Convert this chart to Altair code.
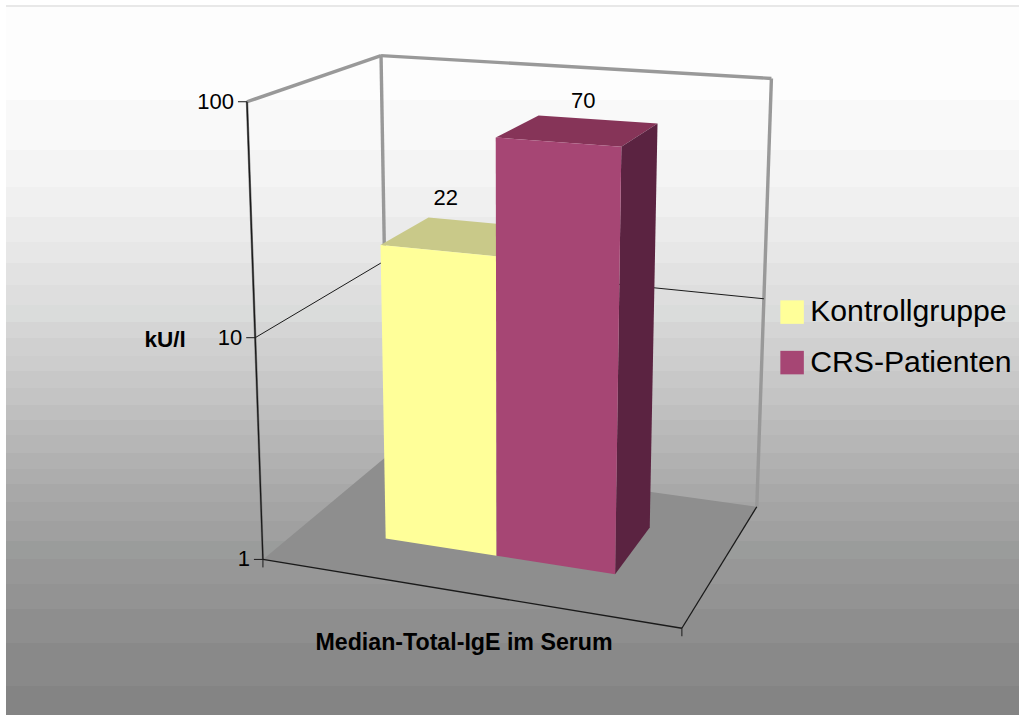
import altair as alt
import numpy as np
import pandas as pd

W, H = 1019, 716
FONT = "Liberation Sans"

# Chart values
series = ["Kontrollgruppe", "CRS-Patienten"]
values = [22, 70]
axis_ticks = [1, 10, 100]
axis_title = "kU/l"
category_title = "Median-Total-IgE im Serum"

# Stepped backdrop: band edges and their grey levels
band_edges = [6, 100, 150, 187, 217, 242, 263, 285, 305, 322, 338, 356, 371, 388, 405, 420,
              435, 453, 469, 484, 502, 521, 541, 559, 584, 609, 643, 686, 715]
band_colors = ["#fdfdfd", "#f9f9f9", "#f4f4f4", "#f0f0f0", "#ebebeb", "#e7e7e7", "#e2e2e2",
               "#dedede", "#dadcdb", "#d5d5d5", "#d0d0d0", "#cdcdcd", "#c8c8c8", "#c4c4c4",
               "#bfbfbf", "#bababa", "#b6b6b6", "#b1b1b1", "#adadad", "#a8a8a8", "#a4a4a4",
               "#a0a0a0", "#9a9c9b", "#979797", "#939393", "#8e8e8e", "#898989", "#848484"]

# Pinhole camera solved from where the box corners land on the page.
# World axes: x along the categories, y = log10(value) / 2, z into the page.
box_world = [(0, 0, 0), (1, 0, 0), (1, 0, 1), (0, 0, 1), (0, 1, 0), (0, 1, 1), (1, 1, 1), (0, .5, 0), (1, .5, 1)]
box_page = [(263, 561), (682, 627), (757, 508), (388, 454), (247, 102), (381, 56), (772, 78), (255, 337), (763, 299)]


def solve_camera(world, page):
    rows, rhs = [], []
    for (x, y, z), (u, v) in zip(world, page):
        rows.append([x, y, z, 1, 0, 0, 0, 0, -u * x, -u * y, -u * z])
        rhs.append(u)
        rows.append([0, 0, 0, 0, x, y, z, 1, -v * x, -v * y, -v * z])
        rhs.append(v)
    m = np.linalg.lstsq(np.array(rows, float), np.array(rhs, float), rcond=None)[0]
    return np.append(m, 1).reshape(3, 4)


CAM = solve_camera(box_world, box_page)


def project(x, y, z):
    u, v, w = CAM @ np.array([x, y, z, 1.0])
    return u / w, v / w


def height(value):
    return np.log10(value) / 2


def polygons(faces):
    rows = []
    for name, fill_key, corners in faces:
        for i, c in enumerate(corners):
            u, v = project(*c)
            rows.append({"face": name, "key": fill_key, "seq": i, "px": u, "py": v})
    return pd.DataFrame(rows)


def segments(items):
    rows = []
    for k, (a, b) in enumerate(items):
        for i, c in enumerate((a, b)):
            u, v = project(*c)
            rows.append({"seg": k, "seq": i, "px": u, "py": v})
    return pd.DataFrame(rows)


xs = alt.X("px:Q", scale=alt.Scale(domain=[0, W]), axis=None)
ys = alt.Y("py:Q", scale=alt.Scale(domain=[H, 0]), axis=None)


def lines(items, color, width):
    return alt.Chart(segments(items)).mark_line(color=color, strokeWidth=width).encode(
        x=xs, y=ys, order="seq:Q", detail="seg:N")


# Backdrop
bands = pd.DataFrame({"px": [6] * len(band_colors), "px2": [W] * len(band_colors),
                      "py": band_edges[:-1], "py2": band_edges[1:], "c": band_colors})
backdrop = alt.Chart(bands).mark_rect().encode(
    x=xs, x2="px2:Q", y=ys, y2="py2:Q", fill=alt.Fill("c:N", scale=None))
edge = alt.Chart(pd.DataFrame({"px": [6, W], "py": [6, 6]})).mark_line(
    color="#e0e0e0", strokeWidth=1.5).encode(x=xs, y=ys)

# Floor
floor = alt.Chart(polygons([("floor", "floor", [(0, 0, 0), (1, 0, 0), (1, 0, 1), (0, 0, 1)])])).mark_line(
    fill="#8e8e8e", strokeWidth=0).encode(x=xs, y=ys, order="seq:Q", detail="face:N")

# Wall edges and gridlines
back_frame = lines([((0, 1, 0), (0, 1, 1)), ((0, 1, 1), (1, 1, 1)), ((1, 1, 1), (1, 0, 1)), ((0, 1, 1), (0, 0, 1))],
                   "#999999", 3.4)
left_shadow = lines([((0, 0, 0), (0, 1, 0))], "#808080", 2.4)
axis_edges = lines([((0, 0, 0), (0, 1, 0)), ((0, 0, 0), (1, 0, 0)), ((1, 0, 0), (1, 0, 1))], "#1a1a1a", 1.3)
grid = lines([((0, .5, 0), (0, .5, 1)), ((0, .5, 1), (1, .5, 1))], "#1a1a1a", 1)

# Bars
X0, X1, X2 = 0.217, 0.499, 0.787
Z0, Z1 = 0.295, 0.694
ya, yb = height(values[0]), height(values[1])
faces = [
    ("a_top", "a_top", [(X0, ya, Z0), (X1, ya, Z0), (X1, ya, Z1), (X0, ya, Z1)]),
    ("a_front", series[0], [(X0, 0, Z0), (X1, 0, Z0), (X1, ya, Z0), (X0, ya, Z0)]),
    ("b_top", "b_top", [(X1, yb, Z0), (X2, yb, Z0), (X2, yb, Z1), (X1, yb, Z1)]),
    ("b_side", "b_side", [(X2, 0, Z0), (X2, 0, Z1), (X2, yb, Z1), (X2, yb, Z0)]),
    ("b_front", series[1], [(X1, 0, Z0), (X2, 0, Z0), (X2, yb, Z0), (X1, yb, Z0)]),
]
bar_faces = alt.Chart(polygons(faces)).mark_line(strokeWidth=0).encode(
    x=xs, y=ys, order="seq:Q", detail="face:N",
    fill=alt.Fill("key:N",
                  scale=alt.Scale(domain=[series[0], series[1], "a_top", "b_top", "b_side"],
                                  range=["#ffff99", "#a64674", "#c9c989", "#863458", "#5b2341"]),
                  legend=alt.Legend(values=series, title=None, orient="none", legendX=777, legendY=297,
                                    symbolType="square", symbolSize=552, symbolStrokeWidth=0,
                                    labelFont=FONT, labelFontSize=30.2, labelColor="#000000",
                                    labelOffset=3, rowPadding=19.5, labelLimit=300)))


def text_layer(rows, size, weight="normal", align="center"):
    return alt.Chart(pd.DataFrame(rows)).mark_text(
        font=FONT, fontSize=size, fontWeight=weight, align=align, baseline="middle", color="#000000"
    ).encode(x=xs, y=ys, text="t:N")


# Tick marks and labels on the height axis
tick_rows = []
label_rows = []
for k, t in enumerate(axis_ticks):
    u, v = project(0, np.log10(t) / 2, 0)
    tick_rows += [{"seg": k, "seq": 0, "px": u - 9, "py": v}, {"seg": k, "seq": 1, "px": u, "py": v}]
    label_rows.append({"px": u - 13, "py": v, "t": str(t)})
for k, x in enumerate((0, 1)):
    u, v = project(x, 0, 0)
    tick_rows += [{"seg": 10 + k, "seq": 0, "px": u, "py": v}, {"seg": 10 + k, "seq": 1, "px": u, "py": v + 8}]
ticks = alt.Chart(pd.DataFrame(tick_rows)).mark_line(color="#1a1a1a", strokeWidth=1).encode(
    x=xs, y=ys, order="seq:Q", detail="seg:N")
tick_labels = text_layer(label_rows, 22, align="right")

# Value labels above each bar
label_shift = [(-15, -38), (5, -29)]
value_rows = []
for v, (x0, x1), y, (dx, dy) in zip(values, [(X0, X1), (X1, X2)], [ya, yb], label_shift):
    u, w = project((x0 + x1) / 2, y, (Z0 + Z1) / 2)
    value_rows.append({"px": u + dx, "py": w + dy, "t": str(v)})
value_labels = text_layer(value_rows, 22)

titles = text_layer([{"px": 165, "py": 340, "t": axis_title}], 22.5, "bold")
cat_title = text_layer([{"px": 464, "py": 643, "t": category_title}], 23.2, "bold")

chart = alt.layer(
    backdrop, edge, floor, back_frame, left_shadow, grid, bar_faces, axis_edges, ticks,
    tick_labels, value_labels, titles, cat_title
).properties(width=W, height=H, padding=0, autosize=alt.AutoSizeParams(type="none")).configure_view(stroke=None)

chart.save("out.html", embed_options={"renderer": "svg", "actions": False})
